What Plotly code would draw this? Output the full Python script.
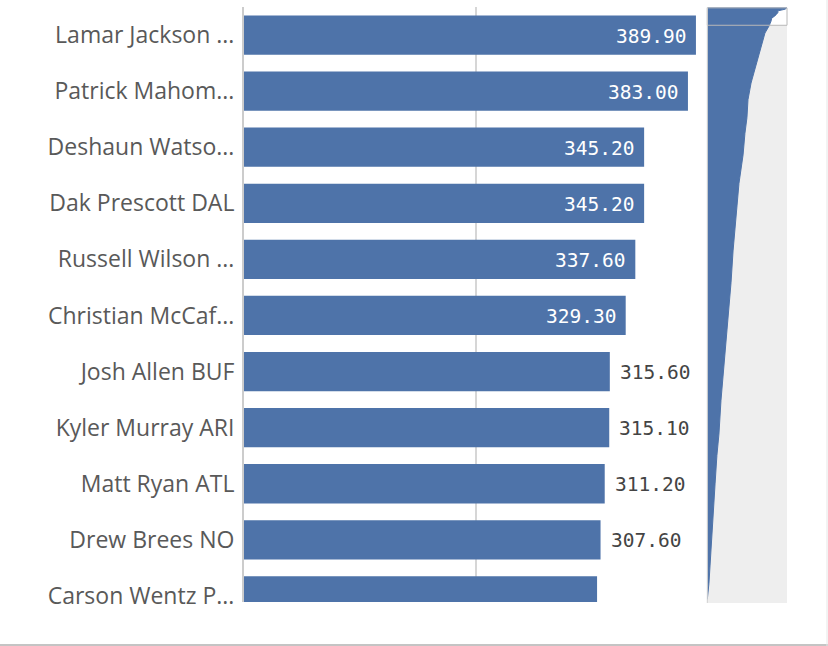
import plotly.graph_objects as go

# ---- data ----
players = ["Lamar Jackson ...", "Patrick Mahom...", "Deshaun Watso...", "Dak Prescott DAL",
           "Russell Wilson ...", "Christian McCaf...", "Josh Allen BUF", "Kyler Murray ARI",
           "Matt Ryan ATL", "Drew Brees NO", "Carson Wentz P..."]
points = [389.9, 383.0, 345.2, 345.2, 337.6, 329.3, 315.6, 315.1, 311.2, 307.6, 304.6]
label_inside = [True, True, True, True, True, True, False, False, False, False, None]

# overview (mini chart) : rank of player -> points, read from the scroll overview
overview_rank = [0, 1, 2, 3, 4, 5, 6, 7, 8, 9, 10, 14.5, 24, 33.6, 42.6, 52, 62, 71, 83, 99,
                 118, 137, 155, 168, 183, 202, 221, 240, 252, 268, 287, 305, 324, 333]
overview_pts = points + [282, 258, 233, 214, 199, 194, 184, 175, 155, 140, 126, 116, 106, 97,
                         82, 67, 57, 47, 38, 28, 18, 8, 0]
total_players = 335
visible_rows = 10.1

BLUE = "#4e73a9"
W, H = 828, 656
REF_H = 646


def px(x):
    return x / W


def py(y):
    return 1 - y / REF_H


fig = go.Figure()
ypos = list(range(len(players)))
fig.add_trace(go.Bar(
    x=points, y=ypos, orientation="h", marker=dict(color=BLUE, line=dict(width=0)),
    width=0.7, hoverinfo="skip", xaxis="x", yaxis="y"))

annotations = []
for i, (v, ins) in enumerate(zip(points, label_inside)):
    if ins is None:
        continue
    annotations.append(dict(
        x=v, y=i, xref="x", yref="y", text=f"{v:.2f}", showarrow=False,
        xanchor="right" if ins else "left", xshift=-8 if ins else 8, yshift=-1,
        font=dict(family="DejaVu Sans Mono", size=19.5, color="white" if ins else "#444444")))

# overview area
fig.add_trace(go.Scatter(
    x=overview_pts, y=overview_rank, mode="lines", fill="tozerox",
    line=dict(color=BLUE, width=1), fillcolor=BLUE, hoverinfo="skip",
    xaxis="x2", yaxis="y2"))

shapes = [
    dict(type="rect", xref="x2 domain", yref="y2 domain", x0=0, x1=1, y0=0, y1=1,
         fillcolor="#eeeeee", line=dict(width=0), layer="below"),
    dict(type="rect", xref="x2 domain", yref="y2", x0=0, x1=1, y0=0, y1=visible_rows,
         fillcolor="white", line=dict(width=0), layer="below"),
    dict(type="rect", xref="x2 domain", yref="y2", x0=0, x1=1, y0=0.3, y1=visible_rows,
         fillcolor="rgba(0,0,0,0)", line=dict(color="#b8b8b8", width=1), layer="above"),
    dict(type="line", xref="x2 domain", yref="y2 domain", x0=0, x1=0, y0=0, y1=1,
         line=dict(color="#cfcfcf", width=1)),
    dict(type="rect", xref="paper", yref="paper", x0=0, x1=1, y0=0, y1=3 / REF_H,
         fillcolor="#c4c4c4", line=dict(width=0)),
    dict(type="line", xref="paper", yref="paper", x0=1 - 1 / W, x1=1 - 1 / W, y0=0, y1=1,
         line=dict(color="#e6e6e6", width=1)),
]

fig.update_layout(
    width=W, height=H, margin=dict(l=0, r=0, t=0, b=0),
    paper_bgcolor="white", plot_bgcolor="rgba(0,0,0,0)", showlegend=False,
    xaxis=dict(domain=[px(244), px(700)], range=[0, 393.4], showgrid=True, gridcolor="#d6d6d6",
               gridwidth=2, tickvals=[200, 400], showticklabels=False, zeroline=False,
               showline=False, fixedrange=True),
    yaxis=dict(domain=[py(601), py(7)], range=[10.107, -0.5], tickvals=ypos,
               ticktext=players, showgrid=False, zeroline=False, showline=True,
               linecolor="#cccccc", linewidth=2, ticks="", ticklabelstandoff=3,
               tickfont=dict(family="Open Sans", size=23, color="#595959"), fixedrange=True),
    xaxis2=dict(domain=[px(707.3), px(787)], range=[0, 389.9], visible=False, anchor="y2",
                fixedrange=True),
    yaxis2=dict(domain=[py(602), py(7.3)], range=[total_players, 0], visible=False,
                anchor="x2", fixedrange=True),
    shapes=shapes, annotations=annotations,
)

fig.write_html("out.html", config={"displayModeBar": False},
               post_script="document.body.style.margin='0';"
                           "document.documentElement.style.overflow='hidden';")
